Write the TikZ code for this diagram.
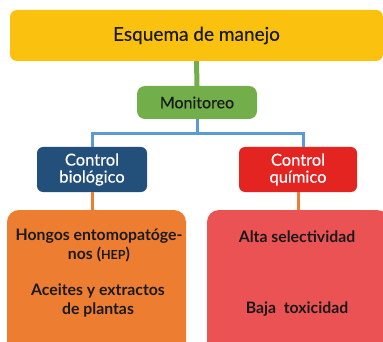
\documentclass[tikz,border=0pt]{standalone}
\usepackage{fontspec}
\setmainfont{Lato}
\newfontfamily\medfont{Lato}[FakeBold=0.35]
\definecolor{cyellow}{HTML}{FBC10F}
\definecolor{cgreen}{HTML}{72AF4A}
\definecolor{cblue}{HTML}{5B9BD5}
\definecolor{cdblue}{HTML}{22507A}
\definecolor{cred}{HTML}{E32421}
\definecolor{corange}{HTML}{ED7D31}
\definecolor{cpink}{HTML}{EB5254}
\definecolor{ctext}{HTML}{1A1A1A}
\tikzset{
  box/.style={rectangle, inner sep=0pt, align=center, text=ctext},
  btxt/.style={box, font=\fontsize{15.8}{19}\selectfont\bfseries}
}
\begin{document}
\begin{tikzpicture}[x=1pt,y=-1pt]
\useasboundingbox (0,0) rectangle (383,342);
\clip (0,0) rectangle (383,342);
% top
\node[box, fill=cyellow, rounded corners=7pt, minimum width=373pt, minimum height=51pt,
  font=\medfont\fontsize{19}{20}\selectfont] (top) at (196.5,35.5) {Esquema de manejo};
\node[box, fill=cgreen, rounded corners=8pt, minimum width=120pt, minimum height=33pt,
  font=\medfont\fontsize{16}{17}\selectfont] (mon) at (197,102.5) {Monitoreo};
\draw[cgreen, line width=5pt] (top.south) -- (mon.north);
% controls
\node[box, fill=cdblue, text=white, rounded corners=6pt, minimum width=110pt, minimum height=45pt,
  font=\medfont\fontsize{16.5}{17}\selectfont] (cb) at (92,169.5) {Control\\biológico};
\node[box, fill=cred, text=white, rounded corners=6pt, minimum width=118pt, minimum height=45pt,
  font=\medfont\fontsize{16.5}{17}\selectfont] (cq) at (298,169.5) {Control\\químico};
\coordinate (bj) at (197,134);
\draw[cblue, line width=3pt] (mon.south) -- (bj);
\draw[cblue, line width=3pt] (bj) -| (cb.north);
\draw[cblue, line width=3pt] (bj) -| ([xshift=5pt]cq.north);
% bottom boxes
\node[box, fill=corange, rounded corners=12pt, minimum width=179pt, minimum height=150pt] (ob) at (96.5,285) {};
\node[box, fill=cpink, rounded corners=12pt, minimum width=182pt, minimum height=150pt] (rb) at (298,285) {};
\draw[corange, line width=3pt] (cb.south) -- (cb.south |- ob.north);
\draw[corange, line width=3pt] (cq.south) -- (cq.south |- rb.north);
\node[btxt] (t1) at (99,245) {Hongos entomopatóge-\\nos ({\fontsize{12.5}{12}\selectfont HEP})};
\node[btxt] (t2) at (98,300) {Aceites y extractos\\de plantas};
\node[btxt] (t3) at (297,237) {Alta selectividad};
\node[btxt] (t4) at (297,309) {Baja\ \ toxicidad};
\end{tikzpicture}
\end{document}
